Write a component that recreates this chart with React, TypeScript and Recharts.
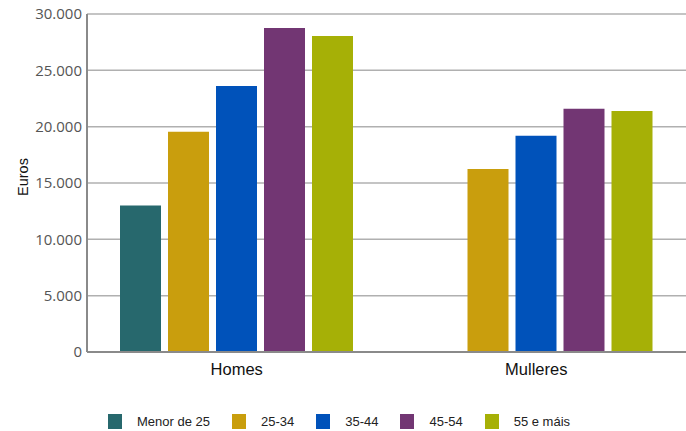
import React from 'react';
import { BarChart, Bar, XAxis, YAxis, CartesianGrid, Legend, Label } from 'recharts';

const categories = ['Homes', 'Mulleres'];
const seriesNames = ['Menor de 25', '25-34', '35-44', '45-54', '55 e máis'];
const menor25 = [13000, null];
const s2534 = [19550, 16250];
const s3544 = [23620, 19190];
const s4554 = [28760, 21580];
const s55 = [28050, 21400];
const yTicks = [0, 5000, 10000, 15000, 20000, 25000, 30000];
const colors = ['#27686d', '#c99e0d', '#0052ba', '#723673', '#a6b006'];

const seriesValues = [menor25, s2534, s3544, s4554, s55];
const data = categories.map((c, i) => {
  const row: any = { name: c };
  seriesNames.forEach((s, j) => {
    row[s] = seriesValues[j][i];
  });
  return row;
});

const fmt = (v: number) => v.toLocaleString('de-DE');

const LegendContent = () => (
  <div style={{ display: 'flex', justifyContent: 'center', alignItems: 'center', height: 20, fontFamily: '"Liberation Sans", Arial, sans-serif', fontSize: 13, color: '#222', paddingRight: 8 }}>
    {seriesNames.map((s, i) => (
      <div key={s} style={{ display: 'flex', alignItems: 'center', marginRight: i < seriesNames.length - 1 ? 22 : 0 }}>
        <span style={{ display: 'inline-block', width: 14, height: 15, background: colors[i], marginRight: 15 }} />
        <span>{s}</span>
      </div>
    ))}
  </div>
);

export default function App() {
  return (
    <div style={{ position: 'absolute', left: 0, top: 0, width: 686, height: 431, background: '#fff' }}>
      <BarChart
        width={686}
        height={431}
        data={data}
        margin={{ top: 14, right: 0, left: 0, bottom: 29 }}
        barSize={41}
        barGap={7}
      >
        <CartesianGrid vertical={false} stroke="#b0b0b0" strokeWidth={1.5} />
        <XAxis
          dataKey="name"
          height={30}
          tickLine={false}
          axisLine={{ stroke: '#8a8a8a', strokeWidth: 2 }}
          tick={{ fill: '#111', fontSize: 16.5, fontFamily: '"Liberation Sans", Arial, sans-serif' }}
          tickMargin={5}
        />
        <YAxis
          width={87}
          domain={[0, 30000]}
          ticks={yTicks}
          tickFormatter={fmt}
          tickLine={false}
          tickSize={0}
          tickMargin={5}
          axisLine={{ stroke: '#8a8a8a', strokeWidth: 2 }}
          tick={{ fill: '#555', fontSize: 15, fontFamily: '"Open Sans", sans-serif' }}
        >
          <Label
            content={(props: any) => {
              const vb = props.viewBox || {};
              const cy = (vb.y || 0) + (vb.height || 0) / 2 - 6;
              return (
                <text
                  x={23}
                  y={cy}
                  transform={`rotate(-90, 23, ${cy})`}
                  textAnchor="middle"
                  dominantBaseline="central"
                  fill="#111"
                  fontSize={14.5}
                  fontFamily='"Liberation Sans", Arial, sans-serif'
                >
                  Euros
                </text>
              );
            }}
          />
        </YAxis>
        <Legend
          verticalAlign="bottom"
          content={<LegendContent />}
          wrapperStyle={{ position: 'absolute', top: 411, left: 0, width: 686, height: 20 }}
        />
        {seriesNames.map((s, i) => (
          <Bar key={s} dataKey={s} fill={colors[i]} isAnimationActive={false} />
        ))}
      </BarChart>
    </div>
  );
}
